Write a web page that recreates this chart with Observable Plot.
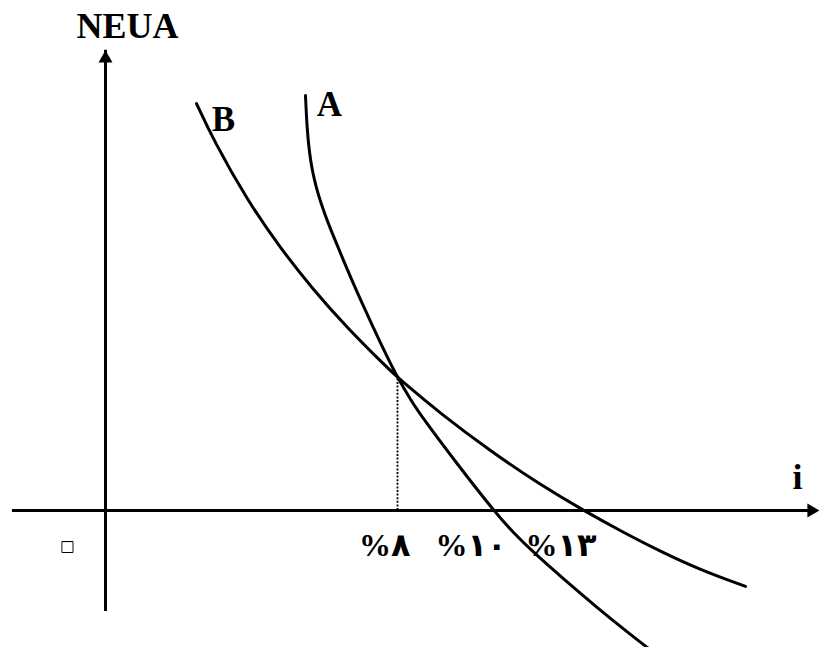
<!DOCTYPE html>
<html>
<head>
<meta charset="utf-8">
<script src="https://cdn.jsdelivr.net/npm/d3@7"></script>
<script src="https://cdn.jsdelivr.net/npm/@observablehq/plot@0.6"></script>
<style>
  html, body { margin: 0; padding: 0; background: #fff; }
  #chart svg { display: block; }
</style>
</head>
<body>
<div id="chart"></div>
<script>
// Interest rate i (%) and NEUA values
const curveA_i    = [5.479, 5.521, 5.589, 5.671, 5.781, 5.890, 6.027, 6.164, 6.521, 6.904, 7.342, 7.699, 8.000, 8.356, 8.712, 9.644, 10.63, 11.18, 11.73, 12.55, 13.48, 14.38, 14.93, 15.26];
const curveA_neua = [31.20, 28.71, 26.83, 25.48, 24.22, 23.23, 22.15, 21.17, 18.78, 16.35, 13.71, 11.65, 10.00, 8.34, 6.87, 3.47, 0.00, -1.69, -3.16, -5.15, -7.33, -9.32, -10.49, -11.13];
const curveB_i    = [2.493, 2.959, 3.890, 4.795, 5.699, 6.630, 7.726, 8.000, 9.178, 10.548, 11.918, 13.096, 14.192, 15.205, 16.301, 17.534];
const curveB_neua = [30.60, 27.85, 23.30, 19.71, 16.58, 13.71, 10.72, 10.00, 7.29, 4.47, 1.92, 0.00, -1.65, -3.08, -4.47, -5.71];

// Intersection (equal NEUA) point
const crossI = 8.0;
const crossNeua = 10.0;

// Tick labels under the i axis (Persian digits) and the rates they mark
const tickValues = [8.0, 10.63, 13.1];
const tickLabels = ["%۸", "%۱۰", "%۱۳"];
const originLabel = "۰";

// Axis extents
const xAxisExtent = [-2.55, 19.56];
const yAxisExtent = [-7.14, 34.6];

const curveA = curveA_i.map((x, k) => ({x, y: curveA_neua[k]}));
const curveB = curveB_i.map((x, k) => ({x, y: curveB_neua[k]}));
const ticks = tickValues.map((x, k) => ({x, label: tickLabels[k]}));

const serif = "'Liberation Serif', 'Times New Roman', 'DejaVu Serif', serif";
const persian = "'Liberation Serif', 'DejaVu Sans', sans-serif";

const chart = Plot.plot({
  width: 819,
  height: 647,
  margin: 0,
  x: {domain: [-2.877, 19.562], axis: null},
  y: {domain: [-10.30, 38.35], axis: null},
  marks: [
    // axes
    Plot.ruleY([0], {x1: xAxisExtent[0], x2: xAxisExtent[1], stroke: "#000", strokeWidth: 3, insetRight: 6}),
    Plot.ruleX([0], {y1: yAxisExtent[0], y2: yAxisExtent[1], stroke: "#000", strokeWidth: 3, insetTop: 6}),
    Plot.dot([{x: xAxisExtent[1], y: 0}], {x: "x", y: "y", symbol: "triangle", r: 5.2, fill: "#000", stroke: null, rotate: 90, dx: -8}),
    Plot.dot([{x: 0, y: yAxisExtent[1]}], {x: "x", y: "y", symbol: "triangle", r: 5.2, fill: "#000", stroke: null, dy: 8}),
    // dotted guide at intersection
    Plot.ruleX([crossI], {y1: 0, y2: crossNeua, stroke: "#000", strokeWidth: 1.8, strokeDasharray: "2,1.6"}),
    // curves
    Plot.line(curveA, {x: "x", y: "y", curve: "basis", stroke: "#000", strokeWidth: 3}),
    Plot.line(curveB, {x: "x", y: "y", curve: "basis", stroke: "#000", strokeWidth: 3}),
    // curve labels
    Plot.text([curveA[0]], {x: "x", y: "y", text: () => "A", dx: 24, dy: 20, lineAnchor: "bottom", fontFamily: serif, fontWeight: "bold", fontSize: 35, fill: "#000"}),
    Plot.text([curveB[0]], {x: "x", y: "y", text: () => "B", dx: 27, dy: 27, lineAnchor: "bottom", fontFamily: serif, fontWeight: "bold", fontSize: 35, fill: "#000"}),
    // axis titles
    Plot.text([{x: 0, y: yAxisExtent[1]}], {x: "x", y: "y", text: () => "NEUA", dx: 22, dy: -12, lineAnchor: "bottom", fontFamily: serif, fontWeight: "bold", fontSize: 36, fill: "#000"}),
    Plot.text([{x: xAxisExtent[1], y: 0}], {x: "x", y: "y", text: () => "i", dx: -22, dy: -22, lineAnchor: "bottom", fontFamily: serif, fontWeight: "bold", fontSize: 36, fill: "#000"}),
    // tick labels
    Plot.text(ticks, {x: "x", y: 0, text: "label", textAnchor: "end", dx: 13, dy: 45, lineAnchor: "bottom", fontFamily: persian, fontWeight: "bold", fontSize: 32, fill: "#000"}),
    Plot.text([{x: 0, y: 0}], {x: "x", y: "y", text: () => originLabel, dx: -38, dy: 52, lineAnchor: "bottom", fontFamily: persian, fontWeight: "bold", fontSize: 58, fill: "#fff", stroke: "#000", strokeWidth: 2, strokeLinejoin: "round"})
  ]
});
document.getElementById("chart").appendChild(chart);
</script>
</body>
</html>
